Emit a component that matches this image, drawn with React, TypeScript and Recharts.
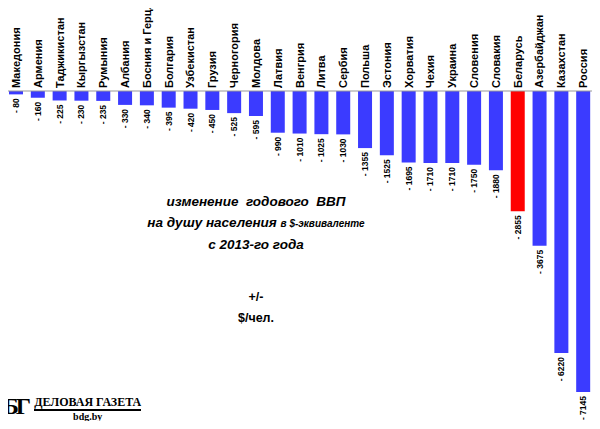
import React from 'react';
import { BarChart, Bar, XAxis, YAxis, Cell, LabelList } from 'recharts';

const countries = ['Македония', 'Армения', 'Таджикистан', 'Кыргызстан', 'Румыния', 'Албания', 'Босния и Герц.', 'Болгария', 'Узбекистан', 'Грузия', 'Черногория', 'Молдова', 'Латвия', 'Венгрия', 'Литва', 'Сербия', 'Польша', 'Эстония', 'Хорватия', 'Чехия', 'Украина', 'Словения', 'Словакия', 'Беларусь', 'Азербайджан', 'Казахстан', 'Россия'];
const change = [-80, -160, -225, -230, -235, -330, -340, -395, -420, -450, -525, -595, -990, -1010, -1025, -1030, -1355, -1525, -1695, -1710, -1710, -1750, -1880, -2855, -3675, -6220, -7145];
const highlight = 'Беларусь';

const data = countries.map((name, i) => ({ name, value: change[i] }));
const font = '"Liberation Sans", Arial, sans-serif';

const CountryTick = (props: any) => {
  const { x, payload } = props;
  return (
    <text transform={`translate(${x + 4},87) rotate(-90)`} textAnchor="start" fontFamily={font} fontSize={11} fontWeight="bold" fill="#000">
      {payload.value}
    </text>
  );
};

const ValueLabel = (props: any) => {
  const { x, y, width, height, value } = props;
  const bottom = Math.max(y, y + height);
  return (
    <text transform={`translate(${x + width / 2 + 3},${bottom + 4}) rotate(-90)`} textAnchor="end" fontFamily={font} fontSize={8.5} fontWeight="bold" fill="#000">
      {String(value).replace('-', '- ')}
    </text>
  );
};

export default function App() {
  return (
    <div style={{ position: 'relative', width: 600, height: 429, margin: -8, background: '#fff', boxSizing: 'border-box', border: '1px solid #999' }}>
      <BarChart width={598} height={427} data={data} margin={{ top: 60, right: 5, bottom: 36, left: 4 }} barCategoryGap={4}>
        <XAxis dataKey="name" orientation="top" interval={0} tick={<CountryTick />} tickLine={false} axisLine={{ stroke: '#999' }} height={30} />
        <YAxis hide domain={[-7145, 0]} />
        <Bar dataKey="value" isAnimationActive={false}>
          {data.map((d) => (
            <Cell key={d.name} fill={d.name === highlight ? '#ff0000' : '#3b3bff'} />
          ))}
          <LabelList dataKey="value" content={<ValueLabel />} />
        </Bar>
      </BarChart>
      <div style={{ position: 'absolute', left: 120, top: 190, width: 270, textAlign: 'center', fontFamily: font, fontStyle: 'italic', fontWeight: 'bold', fontSize: 13.5, lineHeight: '21px', color: '#000' }}>
        <div>изменение&nbsp; годового&nbsp; ВВП</div>
        <div>на душу населения <span style={{ fontSize: 10 }}>в $-эквиваленте</span></div>
        <div>с 2013-го года</div>
        <div style={{ fontStyle: 'normal', fontSize: 12.5, marginTop: 32 }}>+/-</div>
        <div style={{ fontStyle: 'normal', fontSize: 12.5 }}>$/чел.</div>
      </div>
      <div style={{ position: 'absolute', left: 2, top: 393, fontFamily: '"Liberation Serif", serif', color: '#000', display: 'flex', alignItems: 'flex-start' }}>
        <span style={{ fontSize: 24, fontWeight: 'bold', letterSpacing: -3, lineHeight: '24px' }}>БГ</span>
        <div style={{ marginLeft: 6, textAlign: 'center', marginTop: 2 }}>
          <div style={{ fontSize: 12, fontWeight: 'bold', borderBottom: '2px solid #000', lineHeight: '13px', whiteSpace: 'nowrap' }}>ДЕЛОВАЯ ГАЗЕТА</div>
          <div style={{ fontSize: 10, fontWeight: 'bold', lineHeight: '12px' }}>bdg.by</div>
        </div>
      </div>
    </div>
  );
}
